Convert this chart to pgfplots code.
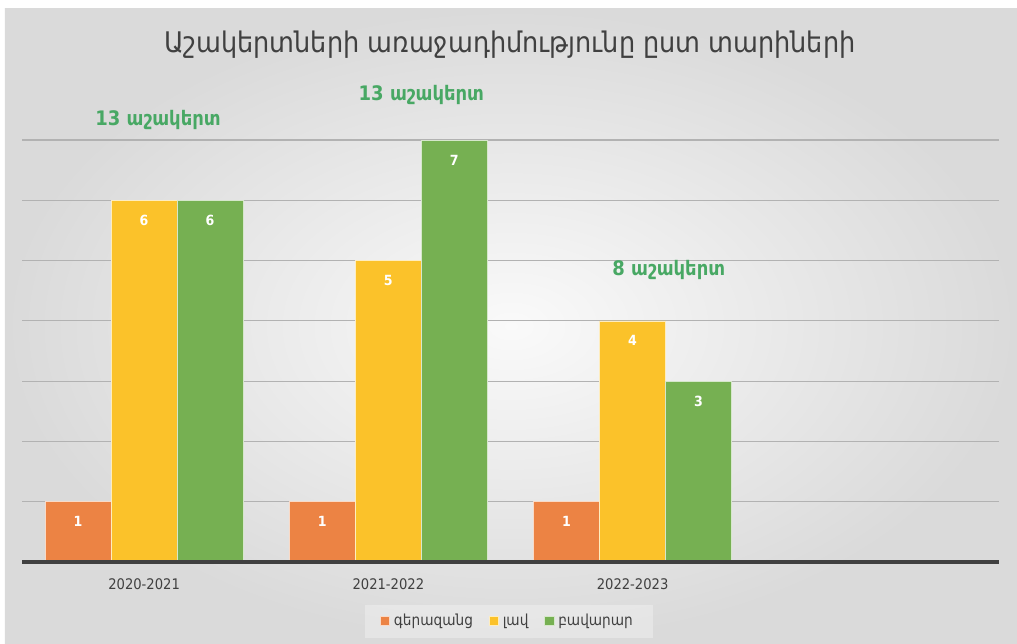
\documentclass[border=0pt]{standalone}
\usepackage{pgfplots}
\pgfplotsset{compat=1.18}
\usepackage{fontspec}
\setmainfont{DejaVu Sans Condensed}
\definecolor{exc}{RGB}{236,131,68}
\definecolor{good}{RGB}{251,194,42}
\definecolor{fair}{RGB}{118,176,82}
\definecolor{note}{RGB}{72,168,100}
\definecolor{txt}{RGB}{64,64,64}
\begin{document}
\begin{tikzpicture}
% background (plot area: 0,0 to 488.5pt,211pt)
\useasboundingbox (-11pt,-40.5pt) rectangle (497.5pt,281pt);
\fill[white] (-11pt,-40.5pt) rectangle (497.5pt,281pt);
\shade[inner color=gray!4, outer color=gray!29] (-8.5pt,-40.5pt) rectangle (497.5pt,276.5pt);
\fill[white, fill opacity=0.3] (171.5pt,-38pt) rectangle (315.5pt,-21.5pt);
\begin{axis}[
    scale only axis,
    width=488.5pt, height=211pt,
    xmin=-0.5, xmax=3.5,
    ymin=0, ymax=7,
    xtick={0,1,2,3},
    xticklabels={2020-2021,2021-2022,2022-2023,{}},
    ytick={1,2,3,4,5,6,7},
    yticklabels={},
    major tick length=0pt,
    ymajorgrids,
    grid style={color=gray!60, line width=0.6pt},
    axis line style={draw=none},
    x tick label style={font=\fontsize{7.3}{8}\selectfont, text=txt, yshift=-5pt},
    ybar=0pt,
    bar width=33pt,
    clip=false,
    nodes near coords,
    every node near coord/.append style={anchor=center, yshift=-10pt,
        font=\fontsize{7}{8}\selectfont\bfseries, text=white},
    /pgf/number format/assume math mode=true,
    legend columns=3,
    legend style={at={(0.498,-29.5pt)}, anchor=center, draw=none, fill=none,
        font=\fontsize{7.6}{9}\selectfont, text=txt,
        /tikz/every odd column/.append style={column sep=0pt},
        /tikz/every even column/.append style={column sep=6pt}},
    legend image code/.code={\fill[#1] (0pt,-2.3pt) rectangle (4.6pt,2.3pt);},
]
\addplot[fill=exc, draw=white!70!exc, line width=0.3pt] coordinates {(0,1) (1,1) (2,1)};
\addplot[fill=good, draw=white!70!good, line width=0.3pt] coordinates {(0,6) (1,5) (2,4)};
\addplot[fill=fair, draw=white!70!fair, line width=0.3pt] coordinates {(0,6) (1,7) (2,3)};
\legend{գերազանց, լավ, բավարար}
\draw[line width=1.6pt, color=black!75] (rel axis cs:0,0) -- (rel axis cs:1,0);
\node[font=\fontsize{10}{11}\selectfont\bfseries, text=note] at (axis cs:0.057,7.33) {13 աշակերտ};
\node[font=\fontsize{10}{11}\selectfont\bfseries, text=note] at (axis cs:1.135,7.74) {13 աշակերտ};
\node[font=\fontsize{10}{11}\selectfont\bfseries, text=note] at (axis cs:2.148,4.84) {8 աշակերտ};
\node[font=\fontsize{14.2}{16}\selectfont, text=txt] at (rel axis cs:0.4995,1.225) {Աշակերտների առաջադիմությունը ըստ տարիների};
\end{axis}
\end{tikzpicture}
\end{document}
